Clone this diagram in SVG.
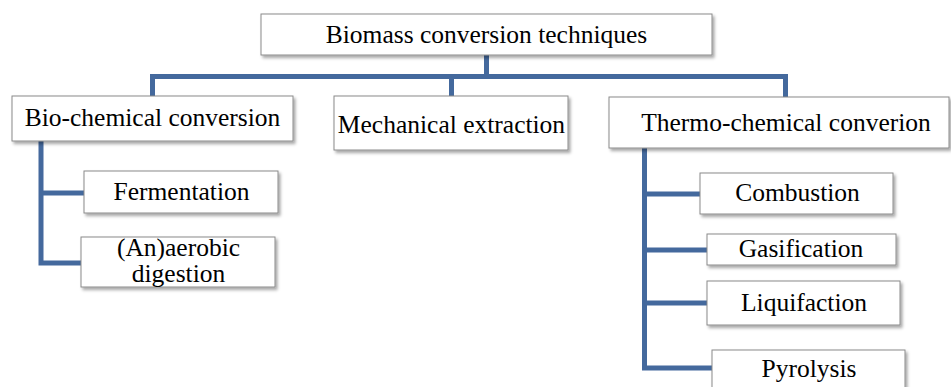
<svg xmlns="http://www.w3.org/2000/svg" width="951" height="387" viewBox="0 0 951 387">
<defs>
<filter id="sh" x="-10%" y="-20%" width="120%" height="150%">
<feDropShadow dx="2" dy="2.5" stdDeviation="1.5" flood-color="#000" flood-opacity="0.35"/>
</filter>
</defs>
<style>
.box{fill:#fff;stroke:#8a8a8a;stroke-width:1;filter:url(#sh)}
.t{font-family:"Liberation Serif","Times New Roman",serif;font-size:25.5px;fill:#000;text-anchor:middle}
.c{fill:none;stroke:#44699d;stroke-width:5}
</style>
<rect width="951" height="387" fill="#fff"/>
<g id="connectors">
<path class="c" d="M486.5,55 V76.5"/>
<path class="c" d="M152.5,97 V76.5 H785.5 V97"/>
<path class="c" d="M451.5,76.5 V96"/>
<path class="c" d="M41,141 V263 H81"/>
<path class="c" d="M41,193 H84"/>
<path class="c" d="M644.5,148 V368 H712"/>
<path class="c" d="M644.5,194 H700"/>
<path class="c" d="M644.5,250 H707"/>
<path class="c" d="M644.5,303 H707"/>
</g>
<g id="root">
<rect class="box" x="261" y="14" width="451" height="41"/>
<text class="t" x="486.5" y="43">Biomass conversion techniques</text>
</g>
<g id="biochemical">
<rect class="box" x="12" y="96" width="281" height="45"/>
<text class="t" x="152.5" y="126">Bio-chemical conversion</text>
</g>
<g id="mechanical">
<rect class="box" x="334" y="96" width="234" height="54"/>
<text class="t" x="451.5" y="133">Mechanical extraction</text>
</g>
<g id="thermochemical">
<rect class="box" x="609" y="97" width="340" height="51"/>
<text class="t" x="786" y="131">Thermo-chemical converion</text>
</g>
<g id="fermentation">
<rect class="box" x="84" y="171" width="194" height="42"/>
<text class="t" x="181.5" y="200">Fermentation</text>
</g>
<g id="anaerobic">
<rect class="box" x="81" y="237" width="194" height="50"/>
<text class="t" x="178.5" y="256">(An)aerobic</text>
<text class="t" x="178.5" y="282">digestion</text>
</g>
<g id="combustion">
<rect class="box" x="700" y="173" width="193" height="41"/>
<text class="t" x="797.5" y="201">Combustion</text>
</g>
<g id="gasification">
<rect class="box" x="707" y="234" width="189" height="31"/>
<text class="t" x="801" y="257">Gasification</text>
</g>
<g id="liquifaction">
<rect class="box" x="707" y="281" width="193" height="44"/>
<text class="t" x="804" y="311">Liquifaction</text>
</g>
<g id="pyrolysis">
<rect class="box" x="712" y="350" width="193" height="45"/>
<text class="t" x="809" y="377">Pyrolysis</text>
</g>
</svg>
